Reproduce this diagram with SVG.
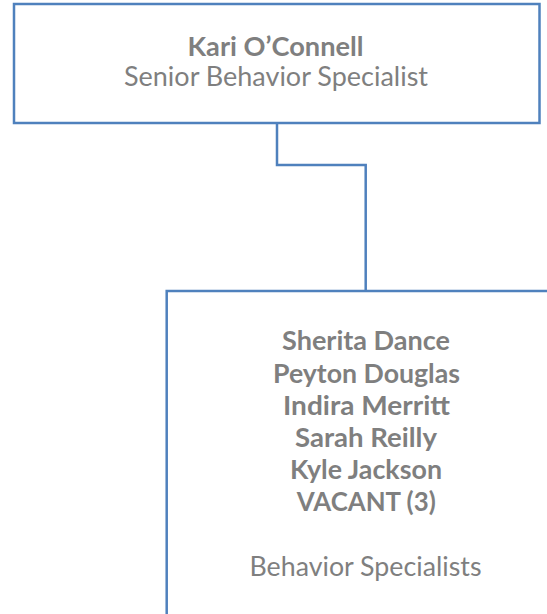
<svg xmlns="http://www.w3.org/2000/svg" width="547" height="614" viewBox="0 0 547 614">
<style>
.box{fill:#fff;stroke:#4f81bd;stroke-width:2.5}
.conn{fill:none;stroke:#4f81bd;stroke-width:2.5}
text{font-family:Lato,"Open Sans","Liberation Sans",sans-serif;font-size:27px;fill:#7f7f7f;text-anchor:middle}
.b{font-weight:bold}
</style>
<rect width="547" height="614" fill="#fff"/>
<g id="connectors">
<path class="conn" d="M277 123 V165 H365.7 V291"/>
</g>
<g id="node-kari">
<rect class="box" x="14" y="4" width="525.5" height="119"/>
<text class="b" x="275.5" y="56" textLength="176" lengthAdjust="spacingAndGlyphs">Kari O’Connell</text>
<text x="276" y="86" textLength="304" lengthAdjust="spacingAndGlyphs">Senior Behavior Specialist</text>
</g>
<g id="node-specialists">
<rect class="box" x="166.7" y="291" width="420" height="360"/>
<text class="b" x="366" y="350" textLength="168" lengthAdjust="spacingAndGlyphs">Sherita Dance</text>
<text class="b" x="366.5" y="382.5" textLength="187" lengthAdjust="spacingAndGlyphs">Peyton Douglas</text>
<text class="b" x="366.5" y="414.5" textLength="167" lengthAdjust="spacingAndGlyphs">Indira Merritt</text>
<text class="b" x="366" y="446.5" textLength="142" lengthAdjust="spacingAndGlyphs">Sarah Reilly</text>
<text class="b" x="366" y="478.5" textLength="152" lengthAdjust="spacingAndGlyphs">Kyle Jackson</text>
<text class="b" x="366.3" y="511" textLength="139" lengthAdjust="spacingAndGlyphs">VACANT (3)</text>
<text x="365.5" y="576" textLength="232" lengthAdjust="spacingAndGlyphs">Behavior Specialists</text>
</g>
</svg>
